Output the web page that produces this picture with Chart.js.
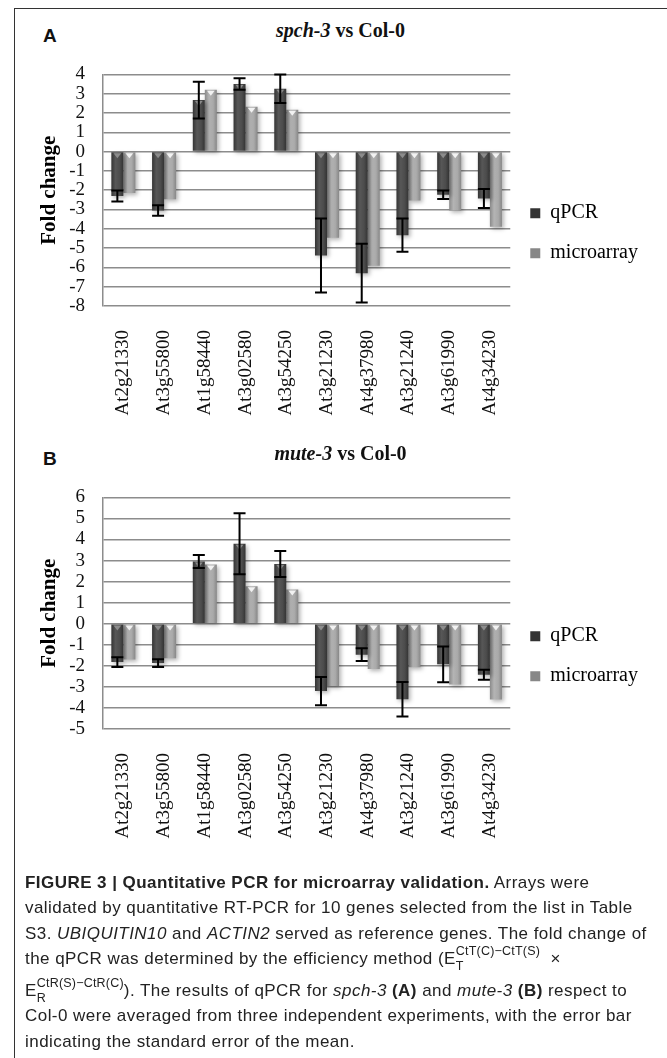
<!DOCTYPE html>
<html>
<head>
<meta charset="utf-8">
<script src="https://cdn.jsdelivr.net/npm/chart.js@4.4.1/dist/chart.umd.min.js"></script>
<style>
body { margin: 0; background: #fff; width: 667px; height: 1058px; overflow: hidden; position: relative; }
#frame { position: absolute; left: 14px; top: 8px; width: 700px; height: 1100px; border: 1px solid #333; }
.letter { position: absolute; left: 43px; font: bold 19px "Liberation Sans", Arial, sans-serif; line-height: 22px; color: #111; }
.ttl { position: absolute; left: 14px; width: 653px; text-align: center; font: bold 20px "Liberation Serif", serif; line-height: 24px; color: #111; }
.box { position: absolute; left: 0; width: 667px; height: 400px; }
#cap { position: absolute; left: 25px; top: 870px; font: 17px "Liberation Sans", Arial, sans-serif; letter-spacing: 0.45px; color: #222; white-space: nowrap; }
#cap .ln { height: 25.3px; line-height: 25px; }
#cap .tall { margin-top: 7px; }
.ss { position: relative; display: inline-block; letter-spacing: 0.2px; }
.sp { font-size: 12.5px; position: relative; top: -9px; }
.sb { font-size: 12.5px; position: absolute; left: 0; top: 8px; }
</style>
</head>
<body>
<div id="frame"></div>

<div class="letter" style="top:25px">A</div>
<div class="ttl" style="top:18px"><i>spch-3</i> vs Col-0</div>
<div class="box" style="top:45px"><canvas id="chartA" width="667" height="400"></canvas></div>

<div class="letter" style="top:448px">B</div>
<div class="ttl" style="top:441px"><i>mute-3</i> vs Col-0</div>
<div class="box" style="top:468px"><canvas id="chartB" width="667" height="400"></canvas></div>

<div id="cap">
  <div class="ln"><b>FIGURE 3 | Quantitative PCR for microarray validation.</b> Arrays were</div>
  <div class="ln">validated by quantitative RT-PCR for 10 genes selected from the list in Table</div>
  <div class="ln">S3. <i>UBIQUITIN10</i> and <i>ACTIN2</i> served as reference genes. The fold change of</div>
  <div class="ln">the qPCR was determined by the efficiency method (E<span class="ss"><span class="sp">CtT(C)&minus;CtT(S)</span><span class="sb">T</span></span> &nbsp;&times;</div>
  <div class="ln tall">E<span class="ss"><span class="sp">CtR(S)&minus;CtR(C)</span><span class="sb">R</span></span>). The results of qPCR for <i>spch-3</i> <b>(A)</b> and <i>mute-3</i> <b>(B)</b> respect to</div>
  <div class="ln">Col-0 were averaged from three independent experiments, with the error bar</div>
  <div class="ln">indicating the standard error of the mean.</div>
</div>

<script>
const genes = ['At2g21330', 'At3g55800', 'At1g58440', 'At3g02580', 'At3g54250',
               'At3g21230', 'At4g37980', 'At3g21240', 'At3g61990', 'At4g34230'];

// panel A: spch-3 vs Col-0
const qpcrA  = [-2.30, -3.05, 2.67, 3.50, 3.26, -5.38, -6.30, -4.33, -2.24, -2.43];
const errA   = [0.28, 0.27, 0.95, 0.30, 0.74, 1.92, 1.52, 0.86, 0.22, 0.49];
const microA = [-2.15, -2.47, 3.20, 2.32, 2.17, -4.47, -5.92, -2.53, -3.05, -3.89];
const yRangeA = [-8, 4];

// panel B: mute-3 vs Col-0
const qpcrB  = [-1.82, -1.87, 2.96, 3.80, 2.84, -3.20, -1.47, -3.59, -1.93, -2.42];
const errB   = [0.23, 0.18, 0.31, 1.45, 0.62, 0.67, 0.30, 0.82, 0.85, 0.24];
const microB = [-1.70, -1.64, 2.81, 1.78, 1.63, -2.96, -2.15, -2.07, -2.89, -3.60];
const yRangeB = [-5, 6];

const CAT_PCT = 0.59;
const SERIF = '"Liberation Serif", "Times New Roman", serif';
Chart.defaults.font.family = SERIF;
Chart.defaults.color = '#000';

// horizontal gradient across each bar, like the bevelled Excel bars
function barFill(dark) {
    return function(ctx) {
        const solid = dark ? '#484848' : '#a0a0a0';
        const xs = ctx.chart.scales.x;
        if (ctx.type !== 'data' || !xs || !xs.width) return solid;
        const half = xs.width / genes.length * CAT_PCT / 2;
        const c = xs.getPixelForValue(ctx.dataIndex);
        const x0 = dark ? c - half : c;
        const g = ctx.chart.ctx.createLinearGradient(x0, 0, x0 + half, 0);
        if (dark) {
            g.addColorStop(0, '#343434'); g.addColorStop(0.35, '#575757');
            g.addColorStop(0.7, '#4c4c4c'); g.addColorStop(1, '#333333');
        } else {
            g.addColorStop(0, '#8a8a8a'); g.addColorStop(0.35, '#b4b4b4');
            g.addColorStop(0.7, '#a9a9a9'); g.addColorStop(1, '#878787');
        }
        return g;
    };
}

const barDeco = {
    id: 'barDeco',
    beforeDatasetsDraw(chart) {
        const c = chart.ctx;
        c.save();
        c.shadowColor = 'rgba(0,0,0,0.3)';
        c.shadowBlur = 4;
        c.shadowOffsetX = 2;
        c.shadowOffsetY = 2;
    },
    afterDatasetsDraw(chart, args, opts) {
        const c = chart.ctx;
        c.restore();
        // small bevel triangle at the top of every bar
        chart.data.datasets.forEach((ds, di) => {
            chart.getDatasetMeta(di).data.forEach(bar => {
                const top = Math.min(bar.y, bar.base);
                const w = bar.width;
                c.fillStyle = di === 0 ? '#8c8c8c' : '#f2f2f2';
                c.beginPath();
                c.moveTo(bar.x - w * 0.32, top + 1);
                c.lineTo(bar.x + w * 0.32, top + 1);
                c.lineTo(bar.x, top + 6);
                c.closePath();
                c.fill();
            });
        });
        // error bars on the qPCR series
        const ys = chart.scales.y;
        const vals = chart.data.datasets[0].data;
        c.save();
        c.strokeStyle = '#000';
        c.lineWidth = 2;
        chart.getDatasetMeta(0).data.forEach((bar, i) => {
            const y1 = ys.getPixelForValue(vals[i] + opts.errors[i]);
            const y2 = ys.getPixelForValue(vals[i] - opts.errors[i]);
            c.beginPath();
            c.moveTo(bar.x, y1); c.lineTo(bar.x, y2);
            c.moveTo(bar.x - 6, y1); c.lineTo(bar.x + 6, y1);
            c.moveTo(bar.x - 6, y2); c.lineTo(bar.x + 6, y2);
            c.stroke();
        });
        c.restore();
    }
};

function makeChart(id, qpcr, micro, errs, yRange) {
    return new Chart(document.getElementById(id), {
        type: 'bar',
        data: {
            labels: genes,
            datasets: [
                { label: 'qPCR', data: qpcr, backgroundColor: barFill(true), borderWidth: 0 },
                { label: 'microarray', data: micro, backgroundColor: barFill(false), borderWidth: 0 }
            ]
        },
        options: {
            responsive: false,
            animation: false,
            devicePixelRatio: 1,
            categoryPercentage: CAT_PCT,
            barPercentage: 1.0,
            layout: { padding: { top: 15, bottom: 0, left: 0, right: 19 } },
            plugins: {
                title: { display: false },
                tooltip: { enabled: false },
                legend: {
                    position: 'right',
                    align: 'center',
                    fullSize: false,
                    // empty title only pushes the two entries down a little
                    title: { display: true, text: ' ', font: { size: 20 }, padding: { top: 31, bottom: 31 } },
                    labels: {
                        boxWidth: 10, boxHeight: 10, padding: 20,
                        color: '#000',
                        font: { family: SERIF, size: 20 }
                    }
                },
                barDeco: { errors: errs }
            },
            scales: {
                x: {
                    grid: { display: false },
                    border: { display: false },
                    ticks: {
                        minRotation: 90, maxRotation: 90, autoSkip: false,
                        padding: 16, color: '#111',
                        font: { family: SERIF, size: 19 }
                    },
                    afterFit(s) { s.height = 139; }
                },
                y: {
                    min: yRange[0],
                    max: yRange[1],
                    ticks: { stepSize: 1, autoSkip: false, padding: 18, color: '#111', font: { family: SERIF, size: 19 } },
                    grid: { color: '#8c8c8c', lineWidth: 1.5, drawTicks: false },
                    border: { display: true, color: '#8c8c8c', width: 1.5 },
                    title: {
                        display: true,
                        text: 'Fold change',
                        color: '#000',
                        font: { family: SERIF, size: 21, weight: 'bold' },
                        padding: { top: 37, bottom: 0 }
                    },
                    afterFit(s) { s.width = 103; }
                }
            }
        },
        plugins: [barDeco]
    });
}

makeChart('chartA', qpcrA, microA, errA, yRangeA);
makeChart('chartB', qpcrB, microB, errB, yRangeB);
</script>
</body>
</html>
